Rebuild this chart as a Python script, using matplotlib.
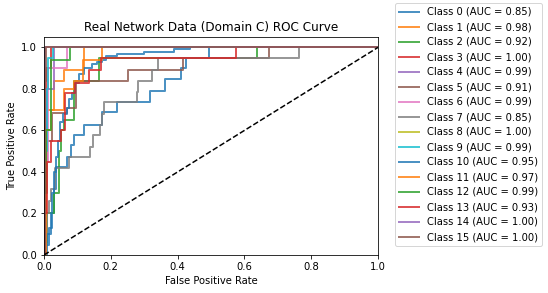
import matplotlib

matplotlib.use("Agg")

import matplotlib.pyplot as plt

# ROC curves: jump positions (fpr) and the tpr level
# reached at each jump. Drawn as a staircase with steps-post.
CLASS_FPR = [
    [0, 0.005, 0.015, 0.024, 0.03, 0.035, 0.069, 0.08, 0.09, 0.119, 0.173,
     0.22, 0.317, 0.362, 0.41, 0.425, 0.494, 1.0],
    [0, 0.005, 0.01, 0.029, 0.059, 0.119, 1.0],
    [0, 0.003, 0.008, 0.029, 0.044, 0.05, 0.06, 0.089, 0.166, 0.637, 1.0],
    [0, 0, 0.006, 0.02, 1.0],
    [0, 0, 0.01, 0.03, 1.0],
    [0, 0.003, 0.01, 0.024, 0.069, 0.095, 0.25, 0.416, 0.674, 1.0],
    [0, 0.003, 0.013, 0.069, 1.0],
    [0, 0.003, 0.008, 0.014, 0.02, 0.034, 0.074, 0.139, 0.148, 0.169, 0.175,
     0.18, 0.278, 0.282, 0.322, 0.342, 0.763, 1.0],
    [0, 0, 0.003, 1.0],
    [0, 0.003, 0.008, 0.012, 0.027, 1.0],
    [0, 0.01, 0.02, 0.025, 0.03, 0.037, 0.043, 0.049, 0.058, 0.069, 0.075,
     0.084, 0.094, 0.104, 0.119, 0.144, 0.16, 0.174, 0.185, 0.22, 0.3, 0.39,
     0.437, 1.0],
    [0, 0.005, 0.02, 0.06, 0.09, 0.117, 0.174, 1.0],
    [0, 0, 0.005, 0.02, 0.078, 1.0],
    [0, 0.003, 0.008, 0.02, 0.05, 0.063, 0.093, 0.134, 0.17, 0.575, 1.0],
    [0, 0, 0.004, 1.0],
    [0, 0.003, 0.006, 1.0],
]
CLASS_TPR = [
    [0, 0.05, 0.13, 0.2, 0.32, 0.425, 0.47, 0.53, 0.577, 0.625, 0.69,
     0.737, 0.79, 0.846, 0.9, 0.95, 1.0, 1.0],
    [0, 0.5, 0.7, 0.84, 0.89, 1.0, 1.0],
    [0, 0.06, 0.2, 0.3, 0.5, 0.6, 0.65, 0.84, 0.95, 1.0, 1.0],
    [0, 0.6, 0.9, 1.0, 1.0],
    [0, 0.5, 0.8, 1.0, 1.0],
    [0, 0.3, 0.55, 0.684, 0.71, 0.84, 0.89, 0.95, 1.0, 1.0],
    [0, 0.45, 0.9, 1.0, 1.0],
    [0, 0.1, 0.2, 0.26, 0.32, 0.42, 0.47, 0.52, 0.577, 0.625, 0.68,
     0.737, 0.785, 0.84, 0.89, 0.95, 1.0, 1.0],
    [0, 0.95, 1.0, 1.0],
    [0, 0.5, 0.8, 0.95, 1.0, 1.0],
    [0, 0.1, 0.2, 0.3, 0.4, 0.47, 0.55, 0.64, 0.68, 0.71, 0.75,
     0.78, 0.83, 0.87, 0.9, 0.92, 0.93, 0.94, 0.96, 0.97, 0.98, 0.99,
     1.0, 1.0],
    [0, 0.6, 0.7, 0.8, 0.84, 0.94, 1.0, 1.0],
    [0, 0.3, 0.6, 0.94, 1.0, 1.0],
    [0, 0.2, 0.45, 0.55, 0.6, 0.78, 0.83, 0.89, 0.95, 1.0, 1.0],
    [0, 0.9, 1.0, 1.0],
    [0, 0.84, 1.0, 1.0],
]
CLASS_AUC = [0.85, 0.98, 0.92, 1.00, 0.99, 0.91, 0.99, 0.85,
             1.00, 0.99, 0.95, 0.97, 0.99, 0.93, 1.00, 1.00]

TITLE = "Real Network Data (Domain C) ROC Curve"

fig = plt.figure(figsize=(548 / 72, 293 / 72), dpi=72)
ax = fig.add_axes([0.0803, 0.1297, 0.6095, 0.744])

for i, (fpr, tpr, auc) in enumerate(zip(CLASS_FPR, CLASS_TPR, CLASS_AUC)):
    ax.plot(fpr, tpr, drawstyle="steps-post", lw=2, alpha=0.8,
            label=f"Class {i} (AUC = {auc:.2f})")

ax.plot([0, 1], [0, 1], "k--", lw=1.5)
ax.set_xlim(0, 1)
ax.set_ylim(0, 1.05)
ax.set_xlabel("False Positive Rate")
ax.set_ylabel("True Positive Rate")
ax.set_title(TITLE)

ax.legend(loc="upper left", bbox_to_anchor=(395 / 548, 1 - 3 / 293),
          bbox_transform=fig.transFigure, borderaxespad=0)

fig.savefig("out.png", dpi=72)
